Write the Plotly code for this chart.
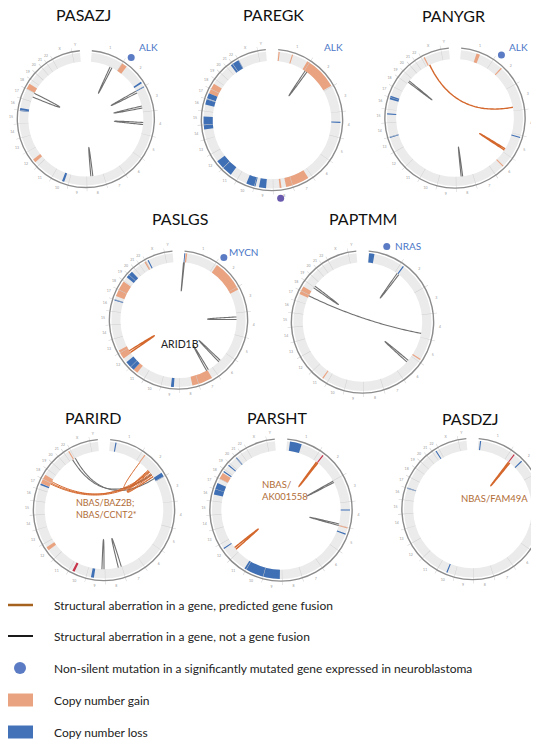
import math
import plotly.graph_objects as go

# the page adds an 8px body margin; all pixel positions below are page pixels
PAGE_OFF = 8
FIG_W, FIG_H = 550, 740

# ---------------- data ----------------
CHROM_NAMES = [str(i) for i in range(1, 23)] + ["X", "Y"]
CHROM_LEN_MB = [249.3, 243.2, 198.0, 191.2, 180.9, 171.1, 159.1, 146.4, 141.2, 135.5,
                135.0, 133.9, 115.2, 107.3, 102.5, 90.4, 81.2, 78.1, 59.1, 63.0,
                48.1, 51.3, 155.3, 59.4]

SAMPLES = ["PASAZJ", "PAREGK", "PANYGR", "PASLGS", "PAPTMM", "PARIRD", "PARSHT", "PASDZJ"]

# copy-number segments, genome angle (deg, clockwise from top)
GAIN = {
    "PASAZJ": [[33, 38], [297, 302], [229.5, 232.5]],
    "PAREGK": [[5.5, 6.5], [17, 18], [31, 60], [293, 302], [172, 173.5], [148, 168]],
    "PANYGR": [[18.5, 21.5], [42.5, 43.5], [134.5, 135.5], [332.5, 333.5]],
    "PASLGS": [[6.2, 7.5], [35, 63], [329.5, 331], [291, 305], [235, 243], [218, 222], [150, 168]],
    "PAPTMM": [[294, 301], [122.5, 123.5], [214.7, 215.7]],
    "PARIRD": [[328.5, 329.5], [36.2, 37.2], [293, 301], [234, 237]],
    "PARSHT": [[297, 302.5], [104.5, 105.5]],
    "PASDZJ": [],
}
LOSS = {
    "PASAZJ": [[56, 57.5], [60.5, 61.5], [277, 279.5], [199, 201]],
    "PAREGK": [[323, 331], [288.5, 293], [283, 288], [262, 273], [217, 233], [194, 202], [185, 191], [91.5, 92.5]],
    "PANYGR": [[106.2, 107.2], [286, 289], [273, 274], [253, 254]],
    "PASLGS": [[5, 5.8], [332.5, 333.5], [309.5, 316], [287, 288], [222, 231], [184, 186.5]],
    "PAPTMM": [[5.5, 10], [35.8, 36.8]],
    "PARIRD": [[9.6, 10.6], [57, 61], [291.5, 292.8], [188.5, 191]],
    "PARSHT": [[7.5, 17.5], [89.5, 90.5], [110, 111], [319, 320], [310, 311], [303.3, 304.3],
               [283, 293], [235.5, 236.5], [181, 212]],
    "PASDZJ": [[6.3, 7.3], [45.3, 46.3], [89.5, 90.5], [327.3, 328.3], [287.3, 288.3], [201.5, 202.5]],
}
OTHER = {
    "PARIRD": [[205.5, 207.5]],
    "PARSHT": [[37, 38]],
    "PASDZJ": [[37, 38]],
}
# structural links: pairs of genome angles
FUSION_LINKS = {
    "PANYGR": [[334.5, 79.5], [121.5, 123]],
    "PASLGS": [[236, 238]],
    "PARIRD": [[297, 50], [298.5, 52], [296, 53.5], [37, 49], [48, 54], [49, 55.5], [50.5, 56]],
    "PARSHT": [[36.5, 38], [229, 231]],
    "PASDZJ": [[37.5, 39]],
}
OTHER_LINKS = {
    "PASAZJ": [[25, 27], [61, 63], [77, 79], [93.5, 95.5], [173, 175], [292.5, 296.5]],
    "PAREGK": [[34, 36]],
    "PANYGR": [[307.5, 309], [172.5, 174]],
    "PASLGS": [[5, 5.8], [87, 89.5], [134, 136], [149, 151]],
    "PAPTMM": [[35.5, 37.5], [305, 307], [296, 101], [130, 132]],
    "PARIRD": [[328, 53], [331, 58], [180, 182], [163, 166]],
    "PARSHT": [[61, 62.5], [103.5, 105]],
    "PASDZJ": [],
}
# non-silent mutations: genome angle and gene
MUT_THETA = {
    "PASAZJ": [36.4],
    "PAREGK": [173.7],
    "PANYGR": [36.4],
    "PASLGS": [36.0],
    "PAPTMM": [17.8],
}
GENE_LABELS = {
    "PASAZJ": "ALK", "PAREGK": "ALK", "PANYGR": "ALK", "PASLGS": "MYCN", "PAPTMM": "NRAS",
}
FUSION_LABELS = {
    "PASLGS": "ARID1B",
    "PARIRD": "NBAS/BAZ2B;<br>NBAS/CCNT2*",
    "PARSHT": "NBAS/<br>AK001558",
    "PASDZJ": "NBAS/FAM49A",
}

LEGEND_TEXT = [
    "Structural aberration in a gene, predicted gene fusion",
    "Structural aberration in a gene, not a gene fusion",
    "Non-silent mutation in a significantly mutated gene expressed in neuroblastoma",
    "Copy number gain",
    "Copy number loss",
]

# ---------------- layout constants ----------------
PANEL_PX = {  # center x, center y, radius of outer line (page px)
    "PASAZJ": (84, 119, 70.5),
    "PAREGK": (272, 120, 71),
    "PANYGR": (455, 118, 70.5),
    "PASLGS": (178.5, 320, 69.5),
    "PAPTMM": (362.5, 322, 71.5),
    "PARIRD": (104, 510, 71),
    "PARSHT": (281, 510, 71.5),
    "PASDZJ": (472.5, 509, 71),
}
TITLE_PX = {
    "PASAZJ": (83, 14), "PAREGK": (273, 14), "PANYGR": (453, 15),
    "PASLGS": (180, 219), "PAPTMM": (363, 219),
    "PARIRD": (93, 417), "PARSHT": (277, 417), "PASDZJ": (470, 418),
}
GENE_LABEL_PX = {
    "PASAZJ": (137, 47), "PAREGK": (322, 47), "PANYGR": (507, 47),
    "PASLGS": (227, 252), "PAPTMM": (393, 246),
}
LABEL_PX = {
    "PASLGS": (180, 344, "center", "#222222", 10.5),
    "PARIRD": (74, 508, "left", "#b06c36", 9),
    "PARSHT": (260, 490, "left", "#b06c36", 9.5),
    "PASDZJ": (459, 498, "left", "#b06c36", 9.5),
}

RMAX = 1.13
R_IN, R_OUT = 0.835, 0.965
R_LINK = 0.835
R_MUT = 1.11
G0, GSPAN = 5.0, 350.0

C_RING = "#ebebeb"
C_GAIN = "#eaa381"
C_LOSS = "#3f6fb4"
C_OTHER = "#c8344a"
C_LINK = "#707070"
C_FUSION = "#d4672c"
C_DOT = "#5b7cc4"
C_GENE = "#4a76c6"
FONT = "Lato"


def px_x(x):
    return (x - PAGE_OFF) / FIG_W


def px_y(y):
    return 1 - (y - PAGE_OFF) / FIG_H


total = sum(CHROM_LEN_MB)
bounds = [G0]
acc = 0.0
for L in CHROM_LEN_MB:
    acc += L
    bounds.append(G0 + acc / total * GSPAN)
mids = [(bounds[i] + bounds[i + 1]) / 2 for i in range(len(CHROM_LEN_MB))]


def bezier(a, b, r0=R_LINK, n=60):
    ax, ay = r0 * math.sin(math.radians(a)), r0 * math.cos(math.radians(a))
    bx, by = r0 * math.sin(math.radians(b)), r0 * math.cos(math.radians(b))
    rs, ts = [], []
    for k in range(n + 1):
        t = k / n
        x = (1 - t) ** 2 * ax + t ** 2 * bx
        y = (1 - t) ** 2 * ay + t ** 2 * by
        rs.append(math.hypot(x, y))
        ts.append(math.degrees(math.atan2(x, y)) % 360)
    return rs, ts


def seg_bar(segs, color, sp, base=R_IN, height=R_OUT - R_IN):
    if not segs:
        return None
    return go.Barpolar(
        theta=[(s[0] + s[1]) / 2 for s in segs],
        width=[abs(s[1] - s[0]) for s in segs],
        base=[base] * len(segs), r=[height] * len(segs),
        marker=dict(color=color, line=dict(width=0)),
        subplot=sp, showlegend=False, hoverinfo="skip")


fig = go.Figure()
layout_polars = {}
annotations = []

for i, s in enumerate(SAMPLES):
    sp = "polar" if i == 0 else f"polar{i + 1}"
    cx, cy, R = PANEL_PX[s]
    half = R * RMAX
    layout_polars[sp] = dict(
        domain=dict(x=[max(0, px_x(cx - half)), min(1, px_x(cx + half))],
                    y=[px_y(cy + half), px_y(cy - half)]),
        bgcolor="rgba(0,0,0,0)",
        radialaxis=dict(visible=False, range=[0, RMAX]),
        angularaxis=dict(visible=False, rotation=90, direction="clockwise"),
        bargap=0,
    )
    fig.add_trace(seg_bar([[G0, G0 + GSPAN]], C_RING, sp))
    for segs, col in ((GAIN.get(s, []), C_GAIN), (LOSS.get(s, []), C_LOSS), (OTHER.get(s, []), C_OTHER)):
        tr = seg_bar(segs, col, sp)
        if tr is not None:
            fig.add_trace(tr)
    fig.add_trace(seg_bar([[b - 0.2, b + 0.2] for b in bounds[1:-1]], "#cfcfcf", sp,
                          base=R_IN, height=1.05 - R_IN))
    fig.add_trace(seg_bar([[G0, G0 + GSPAN]], "#8c8c8c", sp, base=0.985, height=0.02))
    fig.add_trace(go.Scatterpolar(
        r=[1.085] * len(mids), theta=mids, mode="text", text=CHROM_NAMES,
        textfont=dict(size=3.5, color="#9a9a9a", family=FONT),
        subplot=sp, showlegend=False, hoverinfo="skip", cliponaxis=False))
    for links, col, w in ((OTHER_LINKS.get(s, []), C_LINK, 1.1),
                          (FUSION_LINKS.get(s, []), C_FUSION, 1.0 if s == "PARIRD" else 1.4)):
        for a, b in links:
            rr, tt = bezier(a, b)
            fig.add_trace(go.Scatterpolar(
                r=rr, theta=tt, mode="lines", line=dict(color=col, width=w),
                subplot=sp, showlegend=False, hoverinfo="skip", cliponaxis=False))
    if s in MUT_THETA:
        th = MUT_THETA[s]
        fig.add_trace(go.Scatterpolar(
            r=[R_MUT] * len(th), theta=th, mode="markers",
            marker=dict(size=7, color="#6a5aad" if s == "PAREGK" else C_DOT),
            subplot=sp, showlegend=False, hoverinfo="skip", cliponaxis=False))
    if s in GENE_LABELS:
        gx, gy = GENE_LABEL_PX[s]
        annotations.append(dict(x=px_x(gx), y=px_y(gy), xref="paper", yref="paper", text=GENE_LABELS[s],
                                showarrow=False, xanchor="left", yanchor="middle",
                                font=dict(size=10, color=C_GENE, family=FONT)))
    tx, ty = TITLE_PX[s]
    annotations.append(dict(x=px_x(tx), y=px_y(ty), xref="paper", yref="paper", text=s,
                            showarrow=False, xanchor="center", yanchor="middle",
                            font=dict(size=16, color="#111111", family=FONT)))
    if s in FUSION_LABELS:
        lx, ly, anc, col, fs = LABEL_PX[s]
        annotations.append(dict(x=px_x(lx), y=px_y(ly), xref="paper", yref="paper",
                                text=FUSION_LABELS[s], showarrow=False, xanchor=anc, align=anc,
                                yanchor="middle", font=dict(size=fs, color=col, family=FONT)))

# legend
LEG_Y = [605, 636, 668, 700, 732]
shapes = [
    dict(type="line", xref="paper", yref="paper", x0=px_x(8), x1=px_x(33), y0=px_y(LEG_Y[0]), y1=px_y(LEG_Y[0]),
         line=dict(color="#a5621f", width=2.5)),
    dict(type="line", xref="paper", yref="paper", x0=px_x(8), x1=px_x(33), y0=px_y(LEG_Y[1]), y1=px_y(LEG_Y[1]),
         line=dict(color="#1a1a1a", width=2)),
    dict(type="circle", xref="paper", yref="paper", x0=px_x(14), x1=px_x(26), y0=px_y(LEG_Y[2] + 6), y1=px_y(LEG_Y[2] - 6),
         fillcolor=C_DOT, line=dict(width=0)),
    dict(type="rect", xref="paper", yref="paper", x0=px_x(8), x1=px_x(33), y0=px_y(LEG_Y[3] + 6.5), y1=px_y(LEG_Y[3] - 6.5),
         fillcolor=C_GAIN, line=dict(width=0)),
    dict(type="rect", xref="paper", yref="paper", x0=px_x(8), x1=px_x(33), y0=px_y(LEG_Y[4] + 6.5), y1=px_y(LEG_Y[4] - 6.5),
         fillcolor="#4372b8", line=dict(width=0)),
]
for txt, y in zip(LEGEND_TEXT, LEG_Y):
    annotations.append(dict(x=px_x(52), y=px_y(y), xref="paper", yref="paper", text=txt, showarrow=False,
                            xanchor="left", yanchor="middle", font=dict(size=12, color="#222222", family=FONT)))

fig.update_layout(
    width=FIG_W, height=FIG_H, margin=dict(l=0, r=0, t=0, b=0),
    paper_bgcolor="white", plot_bgcolor="white",
    annotations=annotations, shapes=shapes, showlegend=False,
    **layout_polars,
)
fig.write_html("out.html")
